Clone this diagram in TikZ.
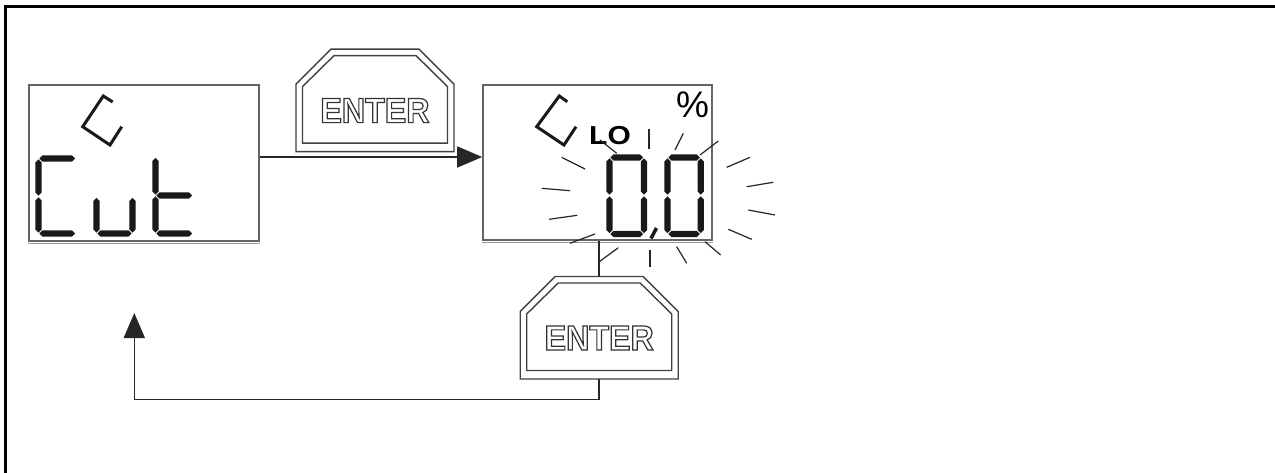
\documentclass[tikz,border=0pt]{standalone}
\usepackage{fontspec}
\setmainfont{Liberation Sans}
\newfontfamily\btnfont[FakeStretch=0.92]{Liberation Sans}
\newfontfamily\lofont[FakeStretch=1.15]{Liberation Sans}
\usetikzlibrary{arrows.meta,calc}
\newcommand\outl[1]{\special{pdf:literal direct 1 Tr 1.2 w}#1\special{pdf:literal direct 0 Tr}}
\newcommand\st{3.1}
\newcommand\gp{0.9}
\newcommand\hseg[3]{\fill[segfill] ({#1+\gp},#3) -- ({#1+\gp+\st},{#3-\st}) -- ({#2-\gp-\st},{#3-\st}) -- ({#2-\gp},#3) -- ({#2-\gp-\st},{#3+\st}) -- ({#1+\gp+\st},{#3+\st}) -- cycle;}
\newcommand\vseg[3]{\fill[segfill] (#1,{#2+\gp}) -- ({#1+\st},{#2+\gp+\st}) -- ({#1+\st},{#3-\gp-\st}) -- (#1,{#3-\gp}) -- ({#1-\st},{#3-\gp-\st}) -- ({#1-\st},{#2+\gp+\st}) -- cycle;}
\newcommand\drawbtn[1]{%
  \begin{scope}[shift={(#1.north)}]
    \draw[btnline] (-44,0) -- (44,0) -- (79,35) -- (79,102.5) -- (-79,102.5) -- (-79,35) -- cycle;
    \draw[btnline] (-41,6.5) -- (41,6.5) -- (72.5,37.5) -- (72.5,94) -- (-72.5,94) -- (-72.5,37.5) -- cycle;
    \node[btntext] (#1txt) at (0,61.5) {\outl{ENTER}};
  \end{scope}}
\tikzset{
  segfill/.style={fill=black!90},
  disp/.style={draw=black!60, line width=1.6pt, rectangle, inner sep=0pt},
  btnbox/.style={draw=none, rectangle, inner sep=0pt, minimum width=158pt, minimum height=102.5pt},
  btnline/.style={draw=black!75, line width=1.4pt, line join=miter},
  btntext/.style={inner sep=0pt, text=black!80, font=\btnfont\bfseries\fontsize{35}{35}\selectfont},
  conn/.style={draw=black!85, line width=1.6pt},
  arr/.style={conn, -{Triangle[length=25pt,width=21pt]}},
  ray/.style={draw=black!85, line width=1.2pt},
  brk/.style={draw=black!90, line width=3pt, line join=miter}
}
\begin{document}
\begin{tikzpicture}[x=1pt,y=-1pt]
\useasboundingbox (0,0) rectangle (1275,472);
\fill[white] (0,0) rectangle (1275,472);
% frame (top and left only)
\draw[line width=2.6pt] (1276,6.3) -- (5.5,6.3) -- (5.5,473);

% display boxes
\node[disp, minimum width=230pt, minimum height=156pt] (lbox) at (144,163) {};
\node[disp, minimum width=229pt, minimum height=155pt] (rbox) at (597.5,162.5) {};
\draw[black!40, line width=1.2pt] ([yshift=-1.3pt]lbox.south west) -- ([yshift=-1.3pt]lbox.south east);
\draw[black!40, line width=1.2pt] ([yshift=-1.3pt]rbox.south west) -- ([yshift=-1.3pt]rbox.south east);

% left display content
\draw[brk] (112.7,102) -- (103.3,96) -- (82.7,126.7) -- (110,145) -- (121.7,126.7);
% C
\hseg{38.5}{76}{158.5}
\vseg{38.5}{158.5}{196.5}
\vseg{38.5}{196.5}{233.5}
\hseg{38.5}{76}{233.5}
% u
\vseg{96.5}{197}{233.5}
\vseg{132.5}{197}{233.5}
\hseg{96.5}{132.5}{233.5}
% t
\vseg{155.5}{157}{195.5}
\vseg{155.5}{195.5}{233.5}
\hseg{155.5}{193}{195.5}
\hseg{155.5}{193}{233.5}

% right display content
\draw[brk] (567.3,101.7) -- (559.3,96) -- (536.7,126.7) -- (564,145) -- (576,126.7);
\node[inner sep=0pt, font=\lofont\bfseries\fontsize{26}{26}\selectfont] (lo) at (610,135.5) {LO};
\node[inner sep=0pt, font=\fontsize{37}{37}\selectfont] (pct) at (692.5,105) {\%};
% first 0
\hseg{609.5}{644}{157.5}
\vseg{609.5}{157.5}{195.5}
\vseg{644}{157.5}{195.5}
\vseg{609.5}{195.5}{234}
\vseg{644}{195.5}{234}
\hseg{609.5}{644}{234}
% decimal mark
\draw[line width=3.5pt, black!90] (656.5,228) -- (651,238.5);
% second 0
\hseg{667.5}{700.8}{157.5}
\vseg{667.5}{157.5}{195.5}
\vseg{700.8}{157.5}{195.5}
\vseg{667.5}{195.5}{234}
\vseg{700.8}{195.5}{234}
\hseg{667.5}{700.8}{234}

% flashing rays
\draw[ray] (561.7,157.3) -- (585,169);
\draw[ray] (541.7,188.3) -- (570,190.7);
\draw[ray] (549,219.3) -- (577.3,215.3);
\draw[ray] (570,243.3) -- (595,234);
\draw[ray] (599.3,261.7) -- (618.3,247.7);
\draw[ray] (650,250) -- (650,266.7);
\draw[ray] (676.7,246.7) -- (686.7,263.3);
\draw[ray] (705,241.7) -- (720.7,255);
\draw[ray] (728.3,229.3) -- (751.7,239.3);
\draw[ray] (748.3,210) -- (775,215);
\draw[ray] (746.7,186.7) -- (773.3,182.3);
\draw[ray] (726.7,167.3) -- (750,157.3);
\draw[ray] (700,155) -- (718.3,141);
\draw[ray] (675,150) -- (683.3,133.3);
\draw[ray] (649,129.3) -- (649,149.3);
\draw[ray] (600,140) -- (616.7,153.3);

% ENTER buttons
\node[btnbox] (btn1) at (375,100.55) {};
\node[btnbox] (btn2) at (599.2,327.95) {};
\drawbtn{btn1}
\drawbtn{btn2}

% connectors
\draw[arr] ([yshift=6pt]lbox.east) coordinate (a1) -- (a1 -| rbox.west);
\draw[conn] (rbox.south -| btn2.north) -- (btn2.north);
\coordinate (loopend) at (134.3,313);
\draw[arr] (btn2.south) -- ++(0,20) -| (loopend);
\end{tikzpicture}
\end{document}
